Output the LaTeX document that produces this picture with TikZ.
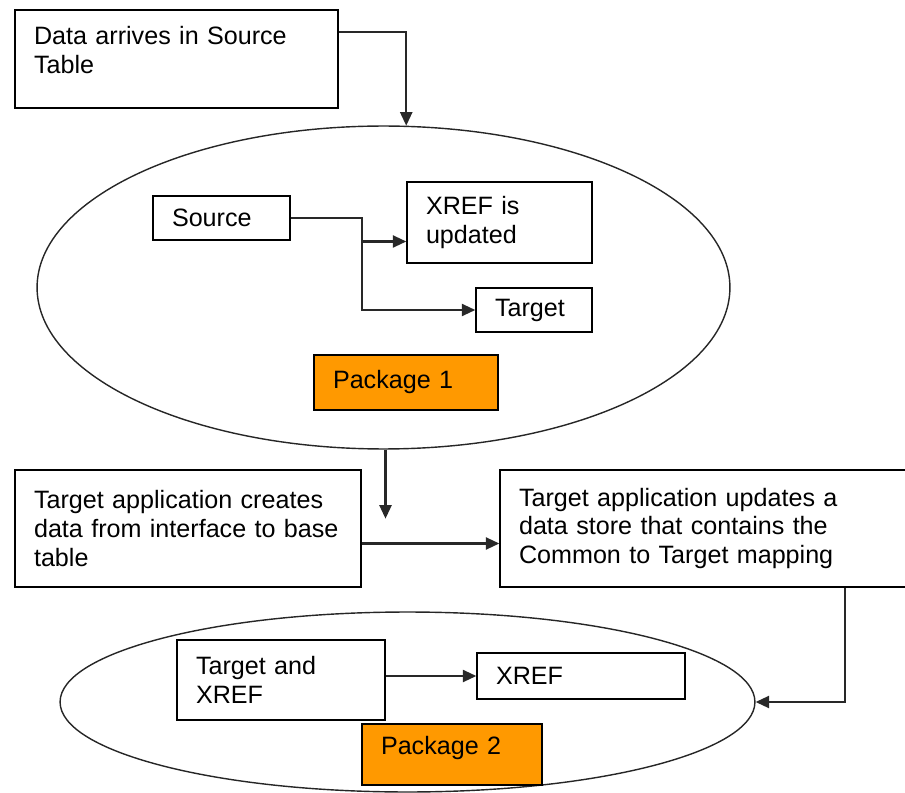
\documentclass[tikz,border=0pt]{standalone}
\usepackage{fontspec}
\setmainfont{Liberation Sans}
\usepackage{xcolor}
\usepackage{tikz}
\usetikzlibrary{shapes.geometric, arrows.meta, positioning, calc}
\definecolor{pkgOrange}{RGB}{255, 153, 0}
\definecolor{lineGray}{RGB}{40, 40, 40}

\begin{document}
\begin{tikzpicture}[
  x=0.02cm, y=-0.02cm,
  font=\fontsize{14.3}{16.3}\selectfont,
  box/.style={rectangle, draw=black, fill=white, line width=0.8pt, align=left, inner xsep=0.38cm, inner ysep=0pt},
  package/.style={box, fill=pkgOrange},
  pool/.style={ellipse, draw=black!85, line width=0.8pt, inner sep=0pt},
  line/.style={draw=lineGray, line width=1.3pt, -{Triangle[length=2.7mm, width=2.4mm]}}
]
  \useasboundingbox (0,0) rectangle (905,793);

  % Package 1
  \node[pool, minimum width=13.86cm, minimum height=6.46cm] (ell1) at (383.5,287.5) {};
  \node[box, text width=5.7cm, minimum height=1.96cm, text height=0.7cm, text depth=1.26cm] (src) at (176.5,59) {Data arrives in Source\\Table};
  \node[box, text width=1.98cm, minimum height=0.88cm] (source) at (221.5,218) {Source};
  \node[box, text width=2.94cm, minimum height=1.62cm] (xrefupd) at (499.5,222.5) {XREF is\\updated};
  \node[box, text width=1.56cm, minimum height=0.88cm] (target) at (534,310) {Target};
  \node[package, text width=2.92cm, minimum height=1.10cm] (pkg1) at (406,382.5) {Package 1};

  % Target application
  \node[box, text width=6.16cm, minimum height=2.34cm] (create) at (188,528.5) {Target application creates\\data from interface to base\\table};
  \node[box, text width=7.48cm, minimum height=2.34cm] (update) at (706,528.5) {Target application updates a\\data store that contains the\\Common to Target mapping};

  % Package 2
  \node[pool, minimum width=13.9cm, minimum height=3.6cm] (ell2) at (407.5,702) {};
  \node[box, text width=3.4cm, minimum height=1.6cm] (tx) at (281,680) {Target and\\XREF};
  \node[box, text width=3.4cm, minimum height=0.92cm] (xref) at (581,676) {XREF};
  \node[package, text width=2.84cm, minimum height=1.22cm, text depth=10pt] (pkg2) at (452,754.5) {Package 2};

  \coordinate (split) at ($(source.east)+(71,0)$);
  \coordinate (drop) at ($(ell1.south)+(2,69)$);

  % Connections
  \path[line] ($(src.north east)+(0,23)$) -| (ell1.82);
  \path[line] (source.east) -- (split) |- ($(xrefupd.west)+(0,19)$);
  \path[line] (split) |- (target.west);
  \path[line] (ell1.south -| drop) -- (drop);
  \path[line] ($(create.east)+(0,15)$) coordinate (c1) -- (c1 -| update.west);
  \path[line] ($(update.south west)+(346,0)$) |- (ell2.east);
  \path[line] (tx.east |- xref.west) -- (xref.west);

\end{tikzpicture}
\end{document}
